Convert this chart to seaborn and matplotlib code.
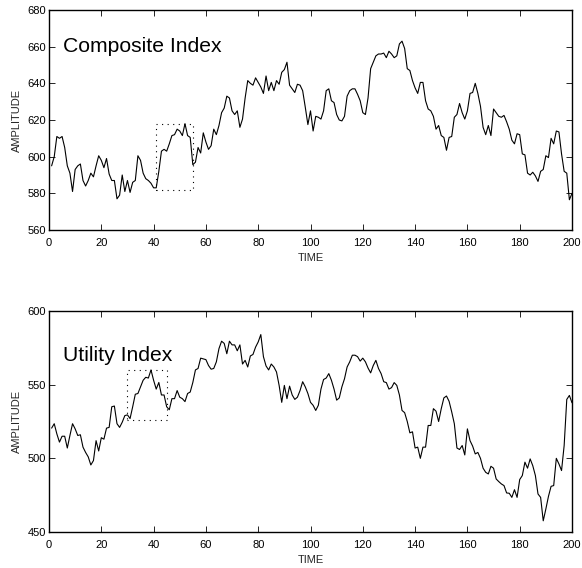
import numpy as np
import pandas as pd
import matplotlib
matplotlib.use("Agg")
import matplotlib.pyplot as plt
from matplotlib.patches import Rectangle
from matplotlib import font_manager
import seaborn as sns

time = list(range(1, 201))

composite = [
    595, 600, 611, 610, 611, 605, 595, 591, 581, 593,
    595, 596, 587, 584, 587, 591, 589, 595, 600.5, 598,
    594, 599, 590.5, 587, 587, 577, 579, 590, 581, 587,
    580.5, 586, 587, 600.5, 598, 591, 588, 587, 585.5, 583,
    583, 592, 603, 604, 603, 607, 611.5, 612, 615, 614,
    611.5, 618, 611.5, 610.5, 595.6, 597, 605, 602, 613, 608,
    604, 606, 615, 612, 617, 624, 626.5, 633, 632, 625,
    623, 625, 616, 620.5, 632, 641.5, 640, 639, 643, 640.5,
    638, 634.5, 644, 636, 640.5, 636, 641.5, 639.5, 646, 647.5,
    651.5, 639, 637, 635, 639.5, 639, 636, 627, 617.5, 625,
    614, 622, 621.5, 620.5, 625, 636, 637, 630.5, 629.5, 623,
    620, 619.5, 622, 633, 636, 637, 637, 634, 630.5, 624,
    623, 632, 648, 651.5, 655, 656, 656, 656.5, 654, 657.5,
    656, 654, 655, 661.5, 663, 659, 648, 647, 641.5, 637.5,
    634.5, 640.5, 640.5, 630.5, 626, 625, 622, 615, 617, 611.5,
    610.5, 603.5, 610.5, 611, 621.5, 623, 629, 624, 620.5, 625,
    634.5, 635, 640, 634.5, 627.5, 616, 612, 617, 611.5, 626,
    624, 622, 621.5, 622.5, 619, 615, 609, 607, 612.5, 612,
    601.5, 601, 591, 590, 591.5, 589.5, 586.5, 592, 593, 600.5,
    599.5, 610, 607, 614, 613.5, 601.5, 592, 591, 576.5, 580,
]

utility = [
    520.5, 523.5, 516.6, 511, 515, 515, 507, 515.5, 523.5, 520,
    515.5, 516, 507.6, 504, 501, 495.5, 498.5, 512, 505, 514,
    513, 520.5, 521, 535, 535.5, 523.5, 521, 524.5, 529, 529.5,
    527, 535, 543.5, 544, 548.5, 553, 555, 554.5, 560, 553,
    547, 551.5, 543, 543, 535, 533, 540.5, 540.5, 546, 541.5,
    540.5, 538.5, 544, 545, 551.5, 560, 561, 568, 567.5, 567,
    563, 560.5, 561, 565.5, 574.5, 579.5, 578, 571, 579.5, 577,
    577, 573, 577, 564, 566.5, 562, 569.5, 570.5, 575.5, 579,
    584, 569, 562.7, 560, 564, 562, 558.6, 549.5, 538, 549.5,
    540.5, 549, 543, 540, 541.5, 546, 552, 548.5, 544, 538,
    536, 532.5, 536, 547, 553.5, 554.5, 557.5, 553, 547, 539.5,
    541, 548.5, 554, 562, 565.5, 570, 570, 569, 566, 568,
    565.5, 561.3, 558, 563, 566.5, 561, 557.5, 552, 551.4, 547,
    548, 551.4, 549.5, 543, 532.5, 531, 525, 517.3, 518, 507,
    507.6, 500, 507.6, 507.6, 522.3, 522.3, 533.7, 532, 525, 533.7,
    541, 542.3, 538.7, 531.5, 523.5, 507, 506, 508.7, 502.3, 520,
    512, 508.3, 503, 504, 500, 493.3, 490.5, 489.4, 494.6, 493.3,
    486, 484.2, 482.6, 481.5, 476.5, 476.3, 473.5, 478.7, 473.5, 485.6,
    488.3, 497.4, 493.3, 499.6, 495, 488.3, 475.8, 473.5, 457.6, 465.6,
    474.2, 481, 481.5, 500, 496.2, 491.7, 508.7, 540, 542.7, 537.7,
]

x_ticks = [0, 20, 40, 60, 80, 100, 120, 140, 160, 180, 200]
top_yticks = [560, 580, 600, 620, 640, 660, 680]
bot_yticks = [450, 500, 550, 600]
top_title = "Composite Index"
bot_title = "Utility Index"
x_label = "TIME"
y_label = "AMPLITUDE"
# dotted boxes: (t0, t1, y0, y1)
top_box = (41, 55, 582, 618)
bot_box = (30, 45, 526, 560)

sns.set_theme(style="ticks")
plt.rcParams["font.family"] = ["Liberation Sans", "DejaVu Sans"]
plt.rcParams["xtick.direction"] = "in"
plt.rcParams["ytick.direction"] = "in"

installed = {f.name for f in font_manager.fontManager.ttflist}
if "Liberation Sans Narrow" in installed:
    title_family = ["Liberation Sans Narrow", "DejaVu Sans"]
    title_size = 18.5
else:
    title_family = ["Liberation Sans", "DejaVu Sans"]
    title_size = 15.2

df = pd.DataFrame({"time": time, "composite": composite, "utility": utility})

fig = plt.figure(figsize=(5.82, 5.68), dpi=100)
ax1 = fig.add_axes([49 / 582, 1 - 230 / 568, 523 / 582, 220 / 568])
ax2 = fig.add_axes([49 / 582, 1 - 532 / 568, 523 / 582, 221 / 568])

specs = [
    (ax1, "composite", top_yticks, top_title, top_box, 0.875),
    (ax2, "utility", bot_yticks, bot_title, bot_box, 0.84),
]
for ax, col, yt, title, box, ty in specs:
    sns.lineplot(data=df, x="time", y=col, ax=ax, color="black", linewidth=0.8)
    ax.set_xlim(x_ticks[0], x_ticks[-1])
    ax.set_ylim(yt[0], yt[-1])
    ax.set_xticks(x_ticks)
    ax.set_yticks(yt)
    ax.tick_params(axis="both", which="both", direction="in", length=4, width=0.6,
                   labelsize=8, colors="black", top=True, right=True)
    ax.tick_params(axis="x", pad=6)
    ax.tick_params(axis="y", pad=2)
    for sp in ax.spines.values():
        sp.set_visible(True)
        sp.set_color("black")
        sp.set_linewidth(1.0)
    ax.set_xlabel(x_label, fontsize=8, labelpad=3.5)
    ax.set_ylabel(y_label, fontsize=8, labelpad=4)
    ax.text(0.027, ty, title, transform=ax.transAxes, fontsize=title_size,
            family=title_family, ha="left", va="top", color="black")
    t0, t1, y0, y1 = box
    ax.add_patch(Rectangle((t0, y0), t1 - t0, y1 - y0, fill=False,
                           edgecolor="black", linewidth=0.8,
                           linestyle=(0, (1, 4))))

fig.savefig("out.png", dpi=100)
